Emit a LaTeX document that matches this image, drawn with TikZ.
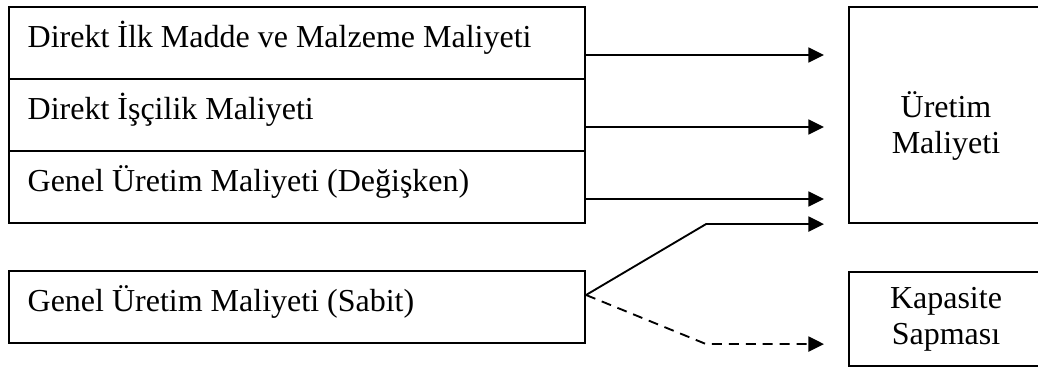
\documentclass[tikz,border=0pt]{standalone}
\usepackage{fontspec}
\setmainfont{Liberation Serif}
\usetikzlibrary{arrows.meta, positioning, calc}

\begin{document}
\begin{tikzpicture}[
    x=0.375pt, y=-0.375pt,
    every node/.style={font=\fontsize{12}{13.5}\selectfont},
    costbox/.style={draw, line width=0.8pt, minimum width=216pt, minimum height=27pt,
                    text width=202pt, inner xsep=7pt, align=flush left,
                    text height=8pt, text depth=4.25pt},
    sidebox/.style={draw, line width=0.8pt, minimum width=72.75pt, align=center},
    flow/.style={line width=0.7pt, -{Triangle[length=5.8pt, width=5.6pt]}, shorten >=9pt}
]
\useasboundingbox (0,0) rectangle (1038,367);
\clip (0,0) rectangle (1038,367);
\node[costbox] (dm) at (297,43) {Direkt İlk Madde ve Malzeme Maliyeti};
\node[costbox] (di) at (297,115) {Direkt İşçilik Maliyeti};
\node[costbox] (gd) at (297,187) {Genel Üretim Maliyeti (Değişken)};
\node[costbox] (gs) at (297,307) {Genel Üretim Maliyeti (Sabit)};
\node[sidebox, minimum height=81pt] (um) at (946,115) {};
\node[align=center] (umtext) at (946,126) {Üretim\\Maliyeti};
\node[sidebox, minimum height=35.25pt] (ks) at (946,319) {Kapasite\\Sapması};

\foreach \n in {dm,di,gd}
  \draw[flow] ([yshift=-4.5pt]\n.east) coordinate (\n-out) -- (\n-out -| um.west);

\coordinate (fork) at ([yshift=4.5pt]gs.east);
\coordinate (up) at ($(fork |- um.south)+(120,0)$);
\coordinate (down) at ($(fork |- gs.south)+(120,0)$);
\draw[flow] (fork) -- (up) -- (up -| um.west);
\draw[flow, dash pattern=on 3.75pt off 2.6pt] (fork) -- (down) -- (down -| ks.west);
\end{tikzpicture}
\end{document}
